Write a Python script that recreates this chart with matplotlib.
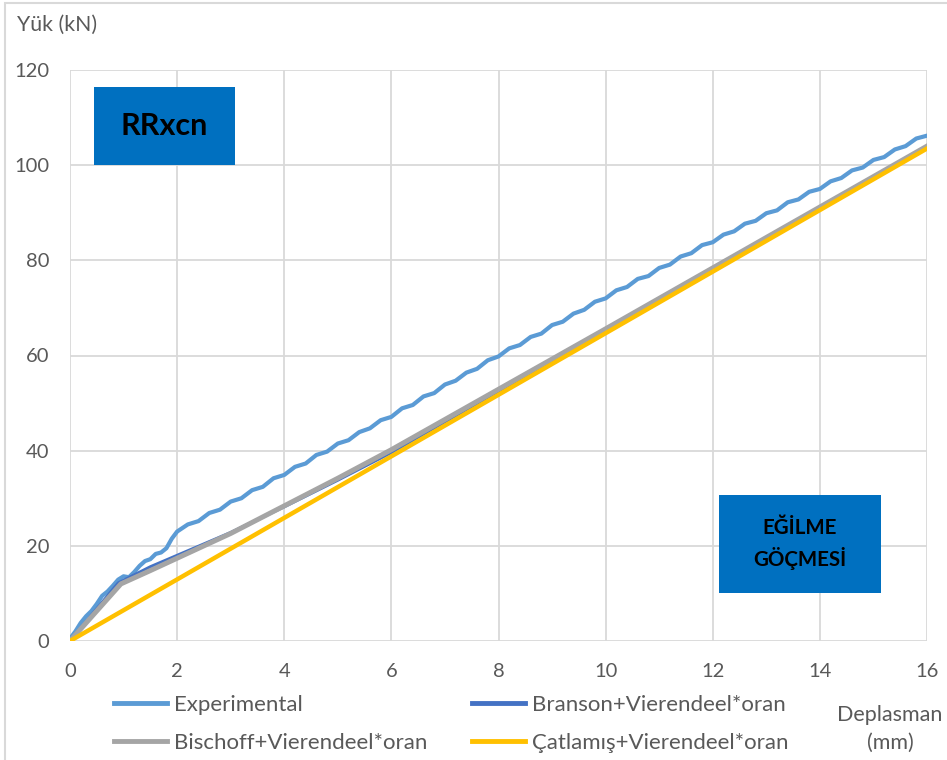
import matplotlib
matplotlib.use("Agg")
import matplotlib.pyplot as plt
from matplotlib.patches import Rectangle
from matplotlib.lines import Line2D

plt.rcParams['font.family'] = ['Lato', 'DejaVu Sans']

# Load–displacement data (displacement in mm, load in kN)
exp_x = [0.0, 0.1, 0.2, 0.3, 0.4, 0.5, 0.6, 0.7, 0.8, 0.9, 1.0, 1.1, 1.2, 1.3, 1.4,
         1.5, 1.6, 1.7, 1.8, 1.9,
         2.0, 2.2, 2.4, 2.6, 2.8, 3.0, 3.2, 3.4, 3.6, 3.8, 4.0, 4.2, 4.4, 4.6, 4.8,
         5.0, 5.2, 5.4, 5.6, 5.8, 6.0, 6.2, 6.4, 6.6, 6.8, 7.0, 7.2, 7.4, 7.6, 7.8,
         8.0, 8.2, 8.4, 8.6, 8.8, 9.0, 9.2, 9.4, 9.6, 9.8, 10.0, 10.2, 10.4, 10.6, 10.8,
         11.0, 11.2, 11.4, 11.6, 11.8, 12.0, 12.2, 12.4, 12.6, 12.8, 13.0, 13.2, 13.4,
         13.6, 13.8, 14.0, 14.2, 14.4, 14.6, 14.8, 15.0, 15.2, 15.4, 15.6, 15.8, 16.0]
exp_y = [0.5, 2.0, 3.8, 5.2, 6.3, 7.8, 9.5, 10.4, 11.6, 12.9, 13.6, 13.4, 14.5, 15.8, 16.8,
         17.2, 18.3, 18.6, 19.5, 21.5,
         23.0, 24.5, 25.2, 26.9, 27.6, 29.3, 30.0, 31.7, 32.4, 34.2, 34.9, 36.6, 37.3, 39.1, 39.8,
         41.5, 42.2, 43.9, 44.7, 46.4, 47.1, 48.9, 49.6, 51.4, 52.1, 53.9, 54.7, 56.4, 57.2, 59.0,
         59.8, 61.5, 62.2, 63.9, 64.6, 66.4, 67.1, 68.8, 69.6, 71.3, 72.0, 73.7, 74.4, 76.1, 76.7,
         78.4, 79.1, 80.8, 81.5, 83.2, 83.8, 85.4, 86.1, 87.7, 88.3, 89.9, 90.5, 92.2,
         92.8, 94.4, 95.0, 96.6, 97.3, 98.9, 99.5, 101.1, 101.7, 103.3, 104.0, 105.6, 106.2]

branson_x = [0.0, 0.9, 1.5, 2.0, 3.0, 4.0, 5.0, 6.0, 8.0, 10.0, 12.0, 14.0, 16.0]
branson_y = [0.0, 12.2, 15.6, 18.0, 22.8, 28.2, 33.8, 39.6, 52.5, 65.2, 78.0, 90.8, 103.7]

bischoff_x = [0.0, 0.95, 1.5, 2.0, 3.0, 4.0, 5.0, 6.0, 8.0, 10.0, 12.0, 14.0, 16.0]
bischoff_y = [0.0, 12.0, 14.8, 17.4, 22.6, 28.4, 34.2, 40.2, 52.9, 65.6, 78.4, 91.2, 104.0]

catlamis_x = [0.0, 16.0]
catlamis_y = [0.0, 103.5]

x_ticks = [0, 2, 4, 6, 8, 10, 12, 14, 16]
y_ticks = [0, 20, 40, 60, 80, 100, 120]

labels = ["Experimental", "Branson+Vierendeel*oran",
          "Bischoff+Vierendeel*oran", "Çatlamış+Vierendeel*oran"]
colors = ["#5B9BD5", "#4472C4", "#A5A5A5", "#FFC000"]

W, H = 947, 760
fig = plt.figure(figsize=(W / 100, H / 100), dpi=100)

# chart frame
fig.patches.append(Rectangle((5 / W, -0.01), 1.0, 1 - 3 / H + 0.01,
                             transform=fig.transFigure, fill=False,
                             edgecolor="#D9D9D9", linewidth=1.5))

ax = fig.add_axes([70 / W, 1 - 641 / H, (927 - 70) / W, (641 - 70) / H])
ax.set_xlim(0, 16)
ax.set_ylim(0, 120)
ax.set_xticks(x_ticks)
ax.set_yticks(y_ticks)
ax.grid(True, color="#D9D9D9", linewidth=1.3)
ax.set_axisbelow(True)
for s in ax.spines.values():
    s.set_visible(False)
ax.tick_params(length=0, labelsize=14.5, labelcolor="#595959")
ax.tick_params(axis='x', pad=16)
ax.tick_params(axis='y', pad=15)

ax.plot(exp_x, exp_y, color=colors[0], linewidth=3.0, solid_joinstyle="round")
ax.plot(branson_x, branson_y, color=colors[1], linewidth=2.2)
ax.plot(bischoff_x, bischoff_y, color=colors[2], linewidth=3.6)
ax.plot(catlamis_x, catlamis_y, color=colors[3], linewidth=3.2)


def add_box(x0, y0, w, h, text, fs):
    # filled label box given in pixel coordinates from the top-left corner
    fig.patches.append(Rectangle((x0 / W, 1 - (y0 + h) / H), w / W, h / H,
                                 transform=fig.transFigure, facecolor="#0070C0",
                                 edgecolor="none", zorder=5))
    fig.text((x0 + w / 2) / W, 1 - (y0 + h / 2) / H, text,
             ha="center", va="center", fontsize=fs, fontweight="bold",
             color="black", linespacing=1.5, zorder=6)


add_box(94, 87, 141, 78, "RRxcn", 22)
add_box(719, 495, 162, 98, "EĞİLME\nGÖÇMESİ", 14.8)

# axis titles
fig.text(17 / W, 1 - 25 / H, "Yük (kN)", ha="left", va="center",
         fontsize=15.3, color="#595959")
fig.text(890 / W, 1 - 729 / H, "Deplasman\n(mm)", ha="center", va="center",
         fontsize=15.5, color="#595959", linespacing=1.45)

# legend laid out row by row
order = [0, 2, 1, 3]
handles = [Line2D([], [], color=colors[i], linewidth=3.5) for i in order]
fig.legend(handles, [labels[i] for i in order], loc="center left", ncol=2,
           frameon=False, bbox_to_anchor=(94 / W, 1 - 724 / H), fontsize=16,
           handlelength=2.4, handletextpad=0.3, columnspacing=2.0,
           labelspacing=0.8, labelcolor="#595959")

fig.savefig("out.png", dpi=100)
